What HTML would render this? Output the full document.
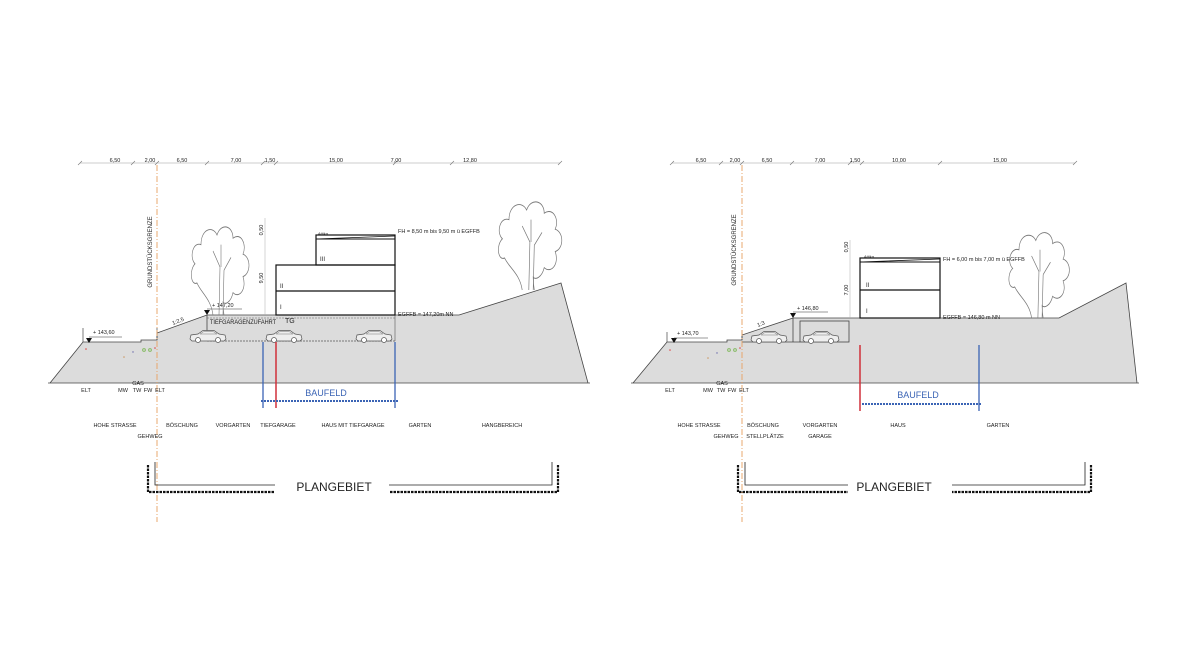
<!DOCTYPE html>
<html><head><meta charset="utf-8"><style>
html,body{margin:0;padding:0;background:#fff;width:1200px;height:650px;overflow:hidden}
svg{display:block}
text{font-family:"Liberation Sans",sans-serif;fill:#222}
</style></head><body>
<svg width="1200" height="650" viewBox="0 0 1200 650" xmlns="http://www.w3.org/2000/svg">
<defs>
<g id="car">
<path d="M0,9 L1,5 L8,4 L13,0.5 L24,0.5 L29,4 L35,5 L36,9 L34,11 L2,11 Z" fill="#eee" stroke="#555" stroke-width="0.7"/>
<circle cx="8" cy="10" r="2.5" fill="#fff" stroke="#555" stroke-width="0.7"/>
<circle cx="28" cy="10" r="2.5" fill="#fff" stroke="#555" stroke-width="0.7"/>
<path d="M10,4 L14,1.5 L23,1.5 L27,4 Z" fill="none" stroke="#777" stroke-width="0.5"/>
</g>
<g id="tree" fill="none" stroke="#777" stroke-width="0.6">
<path d="M-8,0 C-10,-10 -20,-14 -24,-20 C-30,-18 -32,-28 -26,-32 C-32,-36 -28,-46 -20,-44 C-20,-54 -8,-56 -4,-50 C0,-58 12,-56 12,-48 C20,-52 26,-44 22,-38 C30,-36 30,-26 22,-24 C26,-16 18,-10 12,-14 C10,-8 4,-6 2,-8 C2,-4 3,0 3,0"/>
<path d="M-2,0 L-1,-30 M2,0 L3,-28 M-1,-30 L-8,-40 M3,-28 L10,-36 M0,-30 L0,-44"/>
</g>
</defs>

<!-- ================= LEFT PANEL ================= -->
<polygon points="50,383 83,342 141,342 141,340 157,340 157,333 207,315 459,315 561,283 588,383" fill="#dcdcdc"/>
<polyline points="50,383 83,342 141,342 141,340 157,340 157,333 207,315 459,315 561,283 588,383" fill="none" stroke="#444" stroke-width="0.8"/>
<line x1="48" y1="383" x2="590" y2="383" stroke="#444" stroke-width="0.8"/>
<line x1="83" y1="328" x2="83" y2="342" stroke="#444" stroke-width="0.7"/>
<line x1="157" y1="328" x2="157" y2="340" stroke="#444" stroke-width="0.7"/>
<line x1="207" y1="315" x2="207" y2="341" stroke="#444" stroke-width="0.8"/>
<line x1="207" y1="318" x2="395" y2="318" stroke="#666" stroke-width="0.6" stroke-dasharray="2,1"/>
<line x1="207" y1="341" x2="395" y2="341" stroke="#555" stroke-width="0.8" stroke-dasharray="2,1"/>
<line x1="395" y1="315" x2="395" y2="341" stroke="#555" stroke-width="0.6"/>
<use href="#car" x="190" y="330"/>
<use href="#car" x="266" y="330"/>
<use href="#car" x="356" y="330"/>
<rect x="276" y="265" width="119" height="50" fill="none" stroke="#111" stroke-width="1.2"/>
<line x1="276" y1="291" x2="395" y2="291" stroke="#111" stroke-width="1.2"/>
<rect x="316" y="235" width="79" height="30" fill="none" stroke="#111" stroke-width="1.2"/>
<line x1="316" y1="239" x2="395" y2="239" stroke="#111" stroke-width="1"/>
<line x1="316" y1="239" x2="395" y2="236" stroke="#111" stroke-width="0.8"/>
<text x="318" y="235" font-size="4">Attika</text>
<text x="280" y="309" font-size="6">I</text>
<text x="280" y="288" font-size="6">II</text>
<text x="320" y="261" font-size="6">III</text>
<text x="285" y="323" font-size="7">TG</text>
<text x="210" y="324" font-size="6" textLength="66" lengthAdjust="spacingAndGlyphs">TIEFGARAGENZUFAHRT</text>
<line x1="265" y1="218" x2="265" y2="315" stroke="#aaa" stroke-width="0.5"/>
<text transform="translate(263,230) rotate(-90)" font-size="5.5" text-anchor="middle">0,50</text>
<text transform="translate(263,278) rotate(-90)" font-size="5.5" text-anchor="middle">9,50</text>
<text x="398" y="233" font-size="5.5">FH = 8,50 m bis 9,50 m ü EGFFB</text>
<text x="398" y="316" font-size="5.5">EGFFB = 147,20m NN</text>
<polygon points="204,310 210,310 207,315" fill="#111"/>
<line x1="207" y1="309" x2="242" y2="309" stroke="#333" stroke-width="0.6"/>
<text x="212" y="307" font-size="5.5">+ 147,20</text>
<polygon points="86,338 92,338 89,343" fill="#111"/>
<line x1="89" y1="337" x2="122" y2="337" stroke="#333" stroke-width="0.6"/>
<text x="93" y="334" font-size="5.5">+ 143,60</text>
<text transform="translate(173,325) rotate(-22)" font-size="5.5">1:2,5</text>
<use href="#tree" transform="translate(221,315) scale(1.0,1.6)"/>
<use href="#tree" transform="translate(531,290) scale(1.1,1.6)"/>
<line x1="263" y1="342" x2="263" y2="408" stroke="#3b64b5" stroke-width="1.3"/>
<line x1="395" y1="342" x2="395" y2="408" stroke="#3b64b5" stroke-width="1.3"/>
<line x1="276" y1="342" x2="276" y2="408" stroke="#d0303a" stroke-width="1.5"/>
<line x1="261" y1="401" x2="398" y2="401" stroke="#3b64b5" stroke-width="2" stroke-dasharray="2,1"/>
<text x="326" y="396" font-size="9" text-anchor="middle" style="fill:#3b64b5">BAUFELD</text>
<line x1="157" y1="165" x2="157" y2="522" stroke="#e8a060" stroke-width="0.9" stroke-dasharray="6,2,1,2"/>
<text transform="translate(152,252) rotate(-90)" font-size="6" text-anchor="middle">GRUNDSTÜCKSGRENZE</text>
<line x1="80" y1="163" x2="560" y2="163" stroke="#999" stroke-width="0.5"/>
<g stroke="#777" stroke-width="0.6">
<path d="M78,165 l4,-4 M131,165 l4,-4 M155,165 l4,-4 M205,165 l4,-4 M261,165 l4,-4 M274,165 l4,-4 M393,165 l4,-4 M450,165 l4,-4 M558,165 l4,-4"/>
</g>
<g font-size="5.5" text-anchor="middle">
<text x="115" y="162">6,50</text><text x="150" y="162">2,00</text><text x="182" y="162">6,50</text><text x="236" y="162">7,00</text><text x="270" y="162">1,50</text><text x="336" y="162">15,00</text><text x="396" y="162">7,00</text><text x="470" y="162">12,80</text>
</g>
<g font-size="5.5" text-anchor="middle">
<text x="86" y="392">ELT</text><text x="138" y="385">GAS</text><text x="123" y="392">MW</text><text x="137" y="392">TW</text><text x="148" y="392">FW</text><text x="160" y="392">ELT</text>
</g>
<circle cx="86" cy="349" r="0.8" fill="#d44"/><circle cx="124" cy="357" r="0.8" fill="#c96"/><circle cx="133" cy="352" r="0.7" fill="#66a"/>
<circle cx="144" cy="350" r="1.4" fill="none" stroke="#8b6"/><circle cx="150" cy="350" r="1.4" fill="none" stroke="#8b6"/><circle cx="155" cy="348" r="0.8" fill="#d44"/>
<g font-size="5.5" text-anchor="middle">
<text x="115" y="427">HOHE STRASSE</text><text x="150" y="438">GEHWEG</text><text x="182" y="427">BÖSCHUNG</text><text x="233" y="427">VORGARTEN</text><text x="278" y="427">TIEFGARAGE</text><text x="353" y="427">HAUS MIT TIEFGARAGE</text><text x="420" y="427">GARTEN</text><text x="502" y="427">HANGBEREICH</text>
</g>
<path d="M148,465 V492 H275 M558,465 V492 H389" fill="none" stroke="#111" stroke-width="2.2" stroke-dasharray="2.5,1"/>
<path d="M155,462 V485 H275 M552,462 V485 H389" fill="none" stroke="#222" stroke-width="0.8"/>
<text x="334" y="491" font-size="12" text-anchor="middle">PLANGEBIET</text>

<!-- ================= RIGHT PANEL ================= -->
<polygon points="633,383 667,342 727,342 727,340 742,340 742,335 793,318 1059,318 1126,283 1137,383" fill="#dcdcdc"/>
<polyline points="633,383 667,342 727,342 727,340 742,340 742,335 793,318 1059,318 1126,283 1137,383" fill="none" stroke="#444" stroke-width="0.8"/>
<line x1="631" y1="383" x2="1139" y2="383" stroke="#444" stroke-width="0.8"/>
<line x1="667" y1="332" x2="667" y2="342" stroke="#444" stroke-width="0.7"/>
<line x1="742" y1="330" x2="742" y2="340" stroke="#444" stroke-width="0.7"/>
<line x1="793" y1="318" x2="793" y2="342" stroke="#444" stroke-width="0.8"/>
<line x1="742" y1="342" x2="800" y2="342" stroke="#444" stroke-width="0.7"/>
<rect x="800" y="321" width="49" height="21" fill="none" stroke="#444" stroke-width="0.8"/>
<use href="#car" x="751" y="331"/>
<use href="#car" x="803" y="331"/>
<rect x="860" y="258" width="80" height="60" fill="none" stroke="#111" stroke-width="1.2"/>
<line x1="860" y1="290" x2="940" y2="290" stroke="#111" stroke-width="1.2"/>
<line x1="860" y1="262" x2="940" y2="262" stroke="#111" stroke-width="1"/>
<line x1="860" y1="262" x2="940" y2="259" stroke="#111" stroke-width="0.8"/>
<text x="864" y="258" font-size="4">Attika</text>
<text x="866" y="313" font-size="6">I</text>
<text x="866" y="287" font-size="6">II</text>
<line x1="850" y1="240" x2="850" y2="318" stroke="#aaa" stroke-width="0.5"/>
<text transform="translate(848,247) rotate(-90)" font-size="5.5" text-anchor="middle">0,50</text>
<text transform="translate(848,290) rotate(-90)" font-size="5.5" text-anchor="middle">7,00</text>
<text x="943" y="261" font-size="5.5">FH = 6,00 m bis 7,00 m ü EGFFB</text>
<text x="943" y="319" font-size="5.5">EGFFB = 146,80 m NN</text>
<polygon points="790,313 796,313 793,318" fill="#111"/>
<line x1="793" y1="312" x2="828" y2="312" stroke="#333" stroke-width="0.6"/>
<text x="797" y="310" font-size="5.5">+ 146,80</text>
<polygon points="671,338 677,338 674,343" fill="#111"/>
<line x1="674" y1="338" x2="708" y2="338" stroke="#333" stroke-width="0.6"/>
<text x="677" y="335" font-size="5.5">+ 143,70</text>
<text transform="translate(758,327) rotate(-22)" font-size="5.5">1:3</text>
<use href="#tree" transform="translate(1040,318) scale(1.05,1.55)"/>
<line x1="860" y1="345" x2="860" y2="411" stroke="#d0303a" stroke-width="1.5"/>
<line x1="979" y1="345" x2="979" y2="411" stroke="#3b64b5" stroke-width="1.3"/>
<line x1="862" y1="404" x2="982" y2="404" stroke="#3b64b5" stroke-width="2" stroke-dasharray="2,1"/>
<text x="918" y="398" font-size="9" text-anchor="middle" style="fill:#3b64b5">BAUFELD</text>
<line x1="742" y1="165" x2="742" y2="522" stroke="#e8a060" stroke-width="0.9" stroke-dasharray="6,2,1,2"/>
<text transform="translate(736,250) rotate(-90)" font-size="6" text-anchor="middle">GRUNDSTÜCKSGRENZE</text>
<line x1="672" y1="163" x2="1075" y2="163" stroke="#999" stroke-width="0.5"/>
<g stroke="#777" stroke-width="0.6">
<path d="M670,165 l4,-4 M719,165 l4,-4 M740,165 l4,-4 M790,165 l4,-4 M848,165 l4,-4 M860,165 l4,-4 M938,165 l4,-4 M1073,165 l4,-4"/>
</g>
<g font-size="5.5" text-anchor="middle">
<text x="701" y="162">6,50</text><text x="735" y="162">2,00</text><text x="767" y="162">6,50</text><text x="820" y="162">7,00</text><text x="855" y="162">1,50</text><text x="899" y="162">10,00</text><text x="1000" y="162">15,00</text>
</g>
<g font-size="5.5" text-anchor="middle">
<text x="670" y="392">ELT</text><text x="722" y="385">GAS</text><text x="708" y="392">MW</text><text x="721" y="392">TW</text><text x="732" y="392">FW</text><text x="744" y="392">ELT</text>
</g>
<circle cx="670" cy="350" r="0.8" fill="#d44"/><circle cx="708" cy="358" r="0.8" fill="#c96"/><circle cx="717" cy="353" r="0.7" fill="#66a"/>
<circle cx="729" cy="350" r="1.4" fill="none" stroke="#8b6"/><circle cx="735" cy="350" r="1.4" fill="none" stroke="#8b6"/><circle cx="740" cy="348" r="0.8" fill="#d44"/>
<g font-size="5.5" text-anchor="middle">
<text x="699" y="427">HOHE STRASSE</text><text x="726" y="438">GEHWEG</text><text x="763" y="427">BÖSCHUNG</text><text x="765" y="438">STELLPLÄTZE</text><text x="820" y="427">VORGARTEN</text><text x="820" y="438">GARAGE</text><text x="898" y="427">HAUS</text><text x="998" y="427">GARTEN</text>
</g>
<path d="M738,465 V492 H848 M1091,465 V492 H952" fill="none" stroke="#111" stroke-width="2.2" stroke-dasharray="2.5,1"/>
<path d="M745,462 V485 H848 M1085,462 V485 H952" fill="none" stroke="#222" stroke-width="0.8"/>
<text x="894" y="491" font-size="12" text-anchor="middle">PLANGEBIET</text>
</svg>
</body></html>
